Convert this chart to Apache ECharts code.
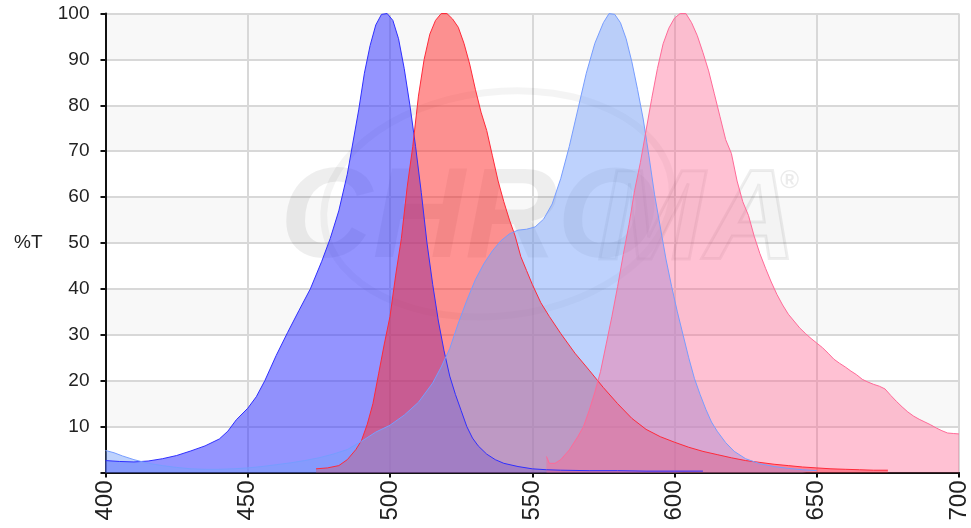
<!DOCTYPE html>
<html>
<head>
<meta charset="utf-8">
<style>
  html, body { margin: 0; padding: 0; background: #ffffff; }
  #chart { width: 971px; height: 528px; }
</style>
<script src="https://cdn.jsdelivr.net/npm/echarts@6/dist/echarts.min.js"></script>
</head>
<body>
<div id="chart"></div>
<script>
// Wavelength axis (nm) and %T tick values
const xTicks = [400, 450, 500, 550, 600, 650, 700];
const yTicks = [10, 20, 30, 40, 50, 60, 70, 80, 90, 100];

// Exciter 1 (violet-blue)
const ex1Wl = [400, 405, 410, 415, 420, 425, 430, 435, 440, 443, 446, 450, 453, 456, 460, 464, 468, 472, 476, 479, 482, 485, 487, 489, 491, 493, 495, 497, 499, 501, 503, 505, 507, 509, 511, 513, 515, 517, 519, 521, 523, 525, 527, 529, 531, 534, 537, 540, 545, 550, 555, 560, 570, 580, 590, 600, 610];
const ex1T  = [2.6, 2.4, 2.3, 2.5, 3.0, 3.7, 4.7, 5.8, 7.3, 9.0, 11.5, 14.0, 16.5, 20.0, 25.5, 30.5, 35.3, 40.0, 46.0, 51.0, 57.0, 65.0, 72.0, 79.0, 87.0, 93.0, 97.5, 99.8, 100, 98.5, 94.5, 88.0, 80.0, 71.0, 61.0, 50.0, 41.0, 33.0, 26.5, 21.0, 17.0, 13.5, 10.0, 7.5, 5.8, 4.0, 2.8, 2.0, 1.3, 0.8, 0.6, 0.5, 0.4, 0.4, 0.3, 0.3, 0.3];

// Emitter 1 (red)
const em1Wl = [474, 478, 482, 485, 488, 490, 492, 494, 496, 498, 500, 502, 504, 506, 508, 510, 512, 514, 516, 518, 520, 522, 524, 526, 528, 530, 532, 534, 536, 538, 540, 542, 544, 546, 548, 550, 553, 556, 560, 565, 570, 575, 580, 585, 590, 595, 600, 605, 610, 615, 620, 625, 630, 635, 640, 645, 650, 655, 660, 665, 670, 675];
const em1T  = [0.8, 1.0, 1.5, 2.8, 5.0, 7.0, 10.5, 15.0, 21.5, 28.0, 34.0, 43.0, 51.0, 62.0, 71.0, 82.0, 90.0, 95.5, 98.5, 100, 100, 98.8, 97.0, 93.5, 89.0, 83.5, 78.5, 74.5, 69.0, 63.5, 59.0, 55.0, 51.5, 47.0, 44.0, 41.0, 37.0, 34.0, 30.3, 26.0, 22.3, 18.5, 15.0, 11.8, 9.4, 7.8, 6.6, 5.5, 4.6, 3.9, 3.2, 2.6, 2.2, 1.8, 1.5, 1.2, 1.0, 0.8, 0.7, 0.6, 0.5, 0.5];

// Exciter 2 (light blue)
const ex2Wl = [400, 403, 406, 410, 415, 420, 425, 430, 435, 440, 445, 450, 455, 460, 465, 470, 475, 480, 485, 490, 495, 500, 505, 510, 515, 518, 521, 524, 527, 530, 533, 536, 539, 542, 545, 548, 551, 554, 557, 560, 563, 566, 569, 572, 575, 577, 579, 581, 583, 585, 587, 589, 591, 593, 595, 597, 599, 601, 603, 605, 607, 609, 611, 613, 615, 618, 621, 625, 630, 635, 640, 645, 650];
const ex2T  = [4.8, 4.3, 3.6, 2.8, 2.0, 1.5, 1.1, 0.8, 0.7, 0.7, 0.8, 1.0, 1.3, 1.7, 2.1, 2.6, 3.2, 4.0, 5.0, 6.8, 8.8, 10.3, 12.5, 15.3, 19.5, 23.0, 27.0, 32.5, 37.5, 42.0, 45.5, 48.3, 50.5, 52.0, 52.8, 53.0, 53.5, 55.2, 58.5, 64.0, 71.0, 79.0, 87.0, 93.5, 98.0, 100, 99.8, 98.0, 94.5, 89.5, 83.5, 77.0, 69.0, 60.5, 53.5, 46.5, 40.5, 35.0, 30.0, 25.0, 20.5, 17.0, 13.8, 11.0, 9.0, 6.5, 4.6, 3.0, 1.9, 1.3, 0.9, 0.6, 0.4];

// Emitter 2 (pink)
const em2Wl = [555, 556, 558, 560, 563, 566, 568, 570, 572, 574, 576, 578, 580, 582, 584, 586, 588, 590, 592, 594, 596, 598, 600, 602, 604, 606, 608, 610, 612, 614, 616, 618, 620, 622, 624, 626, 628, 630, 632, 634, 636, 638, 640, 642, 644, 646, 648, 650, 652, 654, 656, 658, 660, 662, 664, 666, 668, 670, 672, 674, 676, 678, 680, 682, 684, 686, 688, 690, 692, 694, 696, 698, 700];
const em2T  = [3.5, 2.0, 2.0, 2.8, 4.9, 7.8, 10.0, 13.5, 17.5, 22.0, 28.0, 34.0, 40.5, 47.5, 54.0, 61.5, 67.5, 74.5, 81.5, 88.0, 93.4, 96.8, 99.0, 100, 100, 98.0, 95.2, 91.5, 87.5, 82.5, 77.5, 72.5, 69.5, 63.5, 59.0, 56.0, 51.5, 47.7, 44.5, 41.5, 38.8, 36.5, 34.5, 33.0, 31.5, 30.3, 29.2, 28.2, 27.2, 26.0, 24.7, 23.8, 23.0, 22.1, 21.3, 20.3, 19.7, 19.2, 18.8, 18.2, 16.8, 15.5, 14.3, 13.2, 12.3, 11.6, 11.0, 10.4, 9.7, 9.1, 8.6, 8.5, 8.4];

const zip = (xs, ys) => xs.map((x, i) => [x, ys[i]]);

function spectrum(name, wl, t, line, fill) {
  return {
    name: name,
    type: 'line',
    data: zip(wl, t),
    showSymbol: false,
    symbol: 'none',
    smooth: false,
    animation: false,
    lineStyle: { color: line, width: 1 },
    itemStyle: { color: line },
    areaStyle: { color: fill, opacity: 1 }
  };
}

const chart = echarts.init(document.getElementById('chart'), null, { renderer: 'canvas' });

const labelFont = 'Liberation Sans, Arial, sans-serif';

chart.setOption({
  animation: false,
  backgroundColor: '#ffffff',
  grid: { left: 105.5, right: 11.5, top: 13.5, bottom: 55.5, containLabel: false },
  xAxis: {
    type: 'value',
    min: xTicks[0],
    max: xTicks[xTicks.length - 1],
    interval: 50,
    axisLine: { show: true, onZero: false, lineStyle: { color: '#111', width: 2 } },
    axisTick: { show: true, length: 5, lineStyle: { color: '#111', width: 2 } },
    axisLabel: { rotate: 90, margin: 8, color: '#222', fontFamily: labelFont, fontSize: 24 },
    splitLine: { show: true, lineStyle: { color: '#d8d8d8', width: 2 } }
  },
  yAxis: {
    type: 'value',
    min: 0,
    max: 100,
    interval: 10,
    name: '%T',
    nameLocation: 'middle',
    nameRotate: 0,
    nameGap: 63,
    nameTextStyle: { color: '#222', fontFamily: labelFont, fontSize: 19 },
    axisLine: { show: true, lineStyle: { color: '#111', width: 2 } },
    axisTick: { show: true, length: 5, lineStyle: { color: '#111', width: 2 } },
    axisLabel: {
      margin: 16, color: '#222', fontFamily: labelFont, fontSize: 19,
      formatter: v => (yTicks.indexOf(v) >= 0 ? String(v) : '')
    },
    splitLine: { show: true, lineStyle: { color: '#d8d8d8', width: 2 } },
    splitArea: { show: true, areaStyle: { color: ['#ffffff', '#f8f8f8'] } }
  },
  graphic: [
    // faint brand watermark behind the curves
    {
      type: 'ellipse', z: 1, silent: true,
      shape: { cx: 470, cy: 262, rx: 175, ry: 112 },
      rotation: 0.12,
      style: { fill: 'none', stroke: 'rgba(0,0,0,0.045)', lineWidth: 7 }
    },
    {
      type: 'text', z: 1, silent: true, left: 280, top: 158,
      style: {
        text: 'CHRO', fill: 'rgba(0,0,0,0.065)',
        font: 'italic bold 128px "Liberation Sans", Arial, sans-serif'
      }
    },
    {
      type: 'text', z: 1, silent: true, left: 596, top: 158,
      style: {
        text: 'MA', fill: 'rgba(0,0,0,0.02)', stroke: 'rgba(0,0,0,0.065)', lineWidth: 3,
        font: 'italic bold 128px "Liberation Sans", Arial, sans-serif'
      }
    },
    {
      type: 'text', z: 1, silent: true, left: 780, top: 168,
      style: { text: '®', fill: 'rgba(0,0,0,0.08)', font: 'bold 26px "Liberation Sans", Arial, sans-serif' }
    }
  ],
  series: [
    spectrum('ex1', ex1Wl, ex1T, '#2f2fff', 'rgba(60,60,255,0.55)'),
    spectrum('em1', em1Wl, em1T, '#ff2a3a', 'rgba(255,40,40,0.5)'),
    spectrum('ex2', ex2Wl, ex2T, '#779dff', 'rgba(120,160,250,0.48)'),
    spectrum('em2', em2Wl, em2T, '#ff6a98', 'rgba(255,100,145,0.4)')
  ]
});
</script>
</body>
</html>
